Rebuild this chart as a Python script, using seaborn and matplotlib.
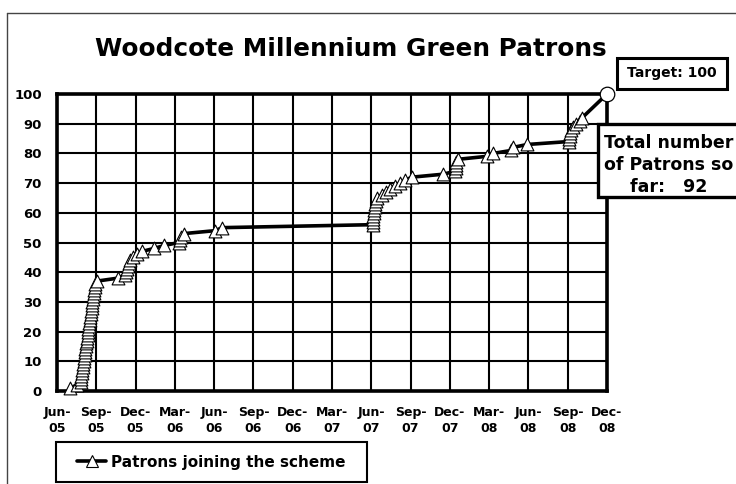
import matplotlib
matplotlib.use("Agg")
import matplotlib.pyplot as plt
import seaborn as sns
import pandas as pd
import numpy as np
from matplotlib.patches import Rectangle
from matplotlib.lines import Line2D

# ---------------- data ----------------
# month of joining, counted from Jun-05 (0) to Dec-08 (42)
join_month = [
    1.0, 1.5, 1.8, 1.83, 1.86, 1.9, 1.93, 1.97, 2.0, 2.03,
    2.07, 2.1, 2.14, 2.17, 2.2, 2.24, 2.27, 2.3, 2.34, 2.37,
    2.4, 2.44, 2.47, 2.5, 2.54, 2.57, 2.6, 2.64, 2.67, 2.7,
    2.74, 2.77, 2.8, 2.84, 2.88, 2.93, 3.05,
    4.65, 5.2, 5.3, 5.35, 5.4, 5.5, 5.6, 5.8, 6.1, 6.5, 7.4, 8.2,
    9.3, 9.4, 9.5, 9.7, 12.1, 12.6,
    24.1, 24.1, 24.15, 24.15, 24.2, 24.2, 24.25, 24.3, 24.35, 24.45,
    24.8, 25.1, 25.4, 25.8, 26.2, 26.6, 27.1,
    29.5, 30.4, 30.45, 30.5, 30.5, 30.6,
    32.8, 33.3, 34.7, 34.8, 35.9,
    39.1, 39.1, 39.15, 39.2, 39.25, 39.4, 39.6, 39.9, 40.1,
]
patrons = [
    1, 2, 3, 4, 5, 6, 7, 8, 9, 10,
    11, 12, 13, 14, 15, 16, 17, 18, 19, 20,
    21, 22, 23, 24, 25, 26, 27, 28, 29, 30,
    31, 32, 33, 34, 35, 36, 37,
    38, 39, 40, 41, 42, 43, 44, 45, 46, 47, 48, 49,
    50, 51, 52, 53, 54, 55,
    56, 57, 58, 59, 60, 61, 62, 63, 64, 65,
    66, 67, 68, 69, 70, 71, 72,
    73, 74, 75, 76, 77, 78,
    79, 80, 81, 82, 83,
    84, 85, 86, 87, 88, 89, 90, 91, 92,
]
target_month = [42]
target_value = [100]
total_so_far = 92

x_tick_labels = ["Jun-\n05", "Sep-\n05", "Dec-\n05", "Mar-\n06", "Jun-\n06",
                 "Sep-\n06", "Dec-\n06", "Mar-\n07", "Jun-\n07", "Sep-\n07",
                 "Dec-\n07", "Mar-\n08", "Jun-\n08", "Sep-\n08", "Dec-\n08"]
y_ticks = [0, 10, 20, 30, 40, 50, 60, 70, 80, 90, 100]

title = "Woodcote Millennium Green Patrons"
series_name = "Patrons joining the scheme"

# ---------------- figure ----------------
sns.set_theme(style="white")
plt.rcParams['font.family'] = ['DejaVu Sans']
plt.rcParams['font.weight'] = 'bold'
plt.rcParams['text.color'] = 'black'
plt.rcParams['axes.labelcolor'] = 'black'
plt.rcParams['xtick.color'] = 'black'
plt.rcParams['ytick.color'] = 'black'

W, H = 736, 484
fig = plt.figure(figsize=(W / 100, H / 100), dpi=100)
fig.patch.set_facecolor("white")

def fx(px):
    return px / W

def fy(py):
    return 1 - py / H

ax = fig.add_axes([fx(57), fy(391), fx(607) - fx(57), fy(94) - fy(391)])

df = pd.DataFrame({"month": join_month, "patrons": patrons})
df_line = pd.DataFrame({"month": join_month + target_month,
                        "patrons": patrons + target_value})
df_target = pd.DataFrame({"month": target_month, "patrons": target_value})

sns.lineplot(data=df_line, x="month", y="patrons", sort=False, estimator=None,
             color="black", lw=2.6, ax=ax, zorder=3, clip_on=False)
sns.scatterplot(data=df, x="month", y="patrons", marker="^", s=85,
                facecolor="white", edgecolor="black", linewidth=0.8,
                ax=ax, zorder=4, clip_on=False, legend=False)
sns.scatterplot(data=df_target, x="month", y="patrons", marker="o", s=110,
                facecolor="white", edgecolor="black", linewidth=0.9,
                ax=ax, zorder=4, clip_on=False, legend=False)

ax.set_xlim(0, 42)
ax.set_ylim(0, 100)
ax.set_xticks(np.arange(0, 43, 3))
ax.set_xticklabels(x_tick_labels, fontsize=9, fontweight="bold", linespacing=1.3,
                   color="black")
ax.set_yticks(y_ticks)
ax.set_yticklabels([str(v) for v in y_ticks], fontsize=9.5, fontweight="bold",
                   color="black")
ax.tick_params(axis="both", length=0, colors="black")
ax.tick_params(axis="y", pad=11)
ax.tick_params(axis="x", pad=11)
ax.set_xlabel("")
ax.set_ylabel("")
ax.grid(True, color="black", lw=1.5)
for s in ax.spines.values():
    s.set_visible(True)
    s.set_color("black")
    s.set_linewidth(2.6)

# outer frame
fig.add_artist(Line2D([fx(7), fx(7)], [0, fy(13)], transform=fig.transFigure,
                      color="#444444", lw=1))
fig.add_artist(Line2D([fx(7), 1], [fy(13), fy(13)], transform=fig.transFigure,
                      color="#444444", lw=1))

# title
fig.text(fx(351), fy(49), title, ha="center", va="center", fontsize=17.8,
         fontweight="bold", color="black")

# target box
fig.add_artist(Rectangle((fx(617), fy(89)), fx(727) - fx(617), fy(58) - fy(89),
                         transform=fig.transFigure, facecolor="white",
                         edgecolor="black", lw=2.2, zorder=5))
fig.text(fx(672), fy(73.5), f"Target: {target_value[0]}", ha="center", va="center",
         fontsize=10, fontweight="bold", color="black", zorder=6)

# total box
fig.add_artist(Rectangle((fx(598), fy(197)), fx(760) - fx(598), fy(124) - fy(197),
                         transform=fig.transFigure, facecolor="white",
                         edgecolor="black", lw=2.4, zorder=5))
fig.text(fx(669), fy(165), f"Total number\nof Patrons so\nfar:   {total_so_far}",
         ha="center", va="center", fontsize=12.5, fontweight="bold",
         color="black", linespacing=1.26, zorder=6)

# legend
fig.add_artist(Rectangle((fx(56), fy(482)), fx(367) - fx(56), fy(442) - fy(482),
                         transform=fig.transFigure, facecolor="white",
                         edgecolor="black", lw=1.5, zorder=5))
handle = Line2D([], [], color="black", lw=2.6, marker="^", markersize=9,
                markerfacecolor="white", markeredgecolor="black",
                markeredgewidth=0.8)
leg = fig.legend(handles=[handle], labels=[series_name], loc="center",
                 bbox_to_anchor=(fx(211.5), fy(462)), frameon=False,
                 fontsize=11, handlelength=1.9, handletextpad=0.3)
leg.set_zorder(6)
for t in leg.get_texts():
    t.set_fontweight("bold")
    t.set_color("black")

fig.savefig("out.png", dpi=100, facecolor="white")
